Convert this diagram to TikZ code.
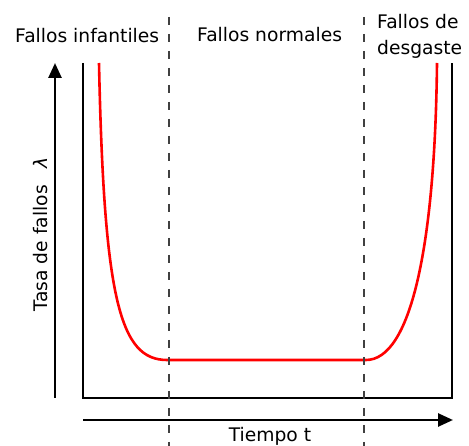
\documentclass[tikz,border=0pt]{standalone}
\usepackage{fontspec}
\setmainfont{DejaVu Sans}
\usepackage{tikz}
\usetikzlibrary{arrows.meta,positioning}
\newcommand{\curva}{red}
\newcommand{\corte}{black!75}
\begin{document}
\begin{tikzpicture}[x=1pt,y=-1pt,
    texto/.style={font=\fontsize{18.7}{26}\selectfont,inner sep=0pt},
    eje/.style={line width=2.6pt,-{Triangle[length=15pt,width=13pt]}},
    division/.style={\corte,line width=2.8pt,dash pattern=on 8pt off 9pt}]
    \useasboundingbox (0,0) rectangle (469,446);
    \clip (0,0) rectangle (469,446);
    \draw[eje] (55,398) -- (55,63);
    \draw[eje] (83,420) -- (453,420);
    \draw[line width=2.6pt] (83,63) -- (83,398) -- (452,398) -- (452,63);
    \draw[\curva,line width=2.6pt] (99,63) .. controls (104,300) and (120,360) .. (167,360)
        -- (366,360) .. controls (410,360) and (435,250) .. (437,63);
    \draw[division] (169,17) -- (169,446);
    \draw[division] (364,17) -- (364,446);
    \node[texto,anchor=base west] (infantiles) at (15,43) {Fallos infantiles};
    \node[texto,anchor=base west] (normales) at (197,42) {Fallos normales};
    \node[texto,anchor=north west,align=left] (desgaste) at (377,14) {Fallos de\\desgaste};
    \node[texto,anchor=base] (tiempo) at (270,442) {Tiempo t};
    \node[texto,anchor=base,rotate=90] (tasa) at (47,234) {Tasa de fallos\hspace{0.6em} \textit{λ}};
\end{tikzpicture}
\end{document}
